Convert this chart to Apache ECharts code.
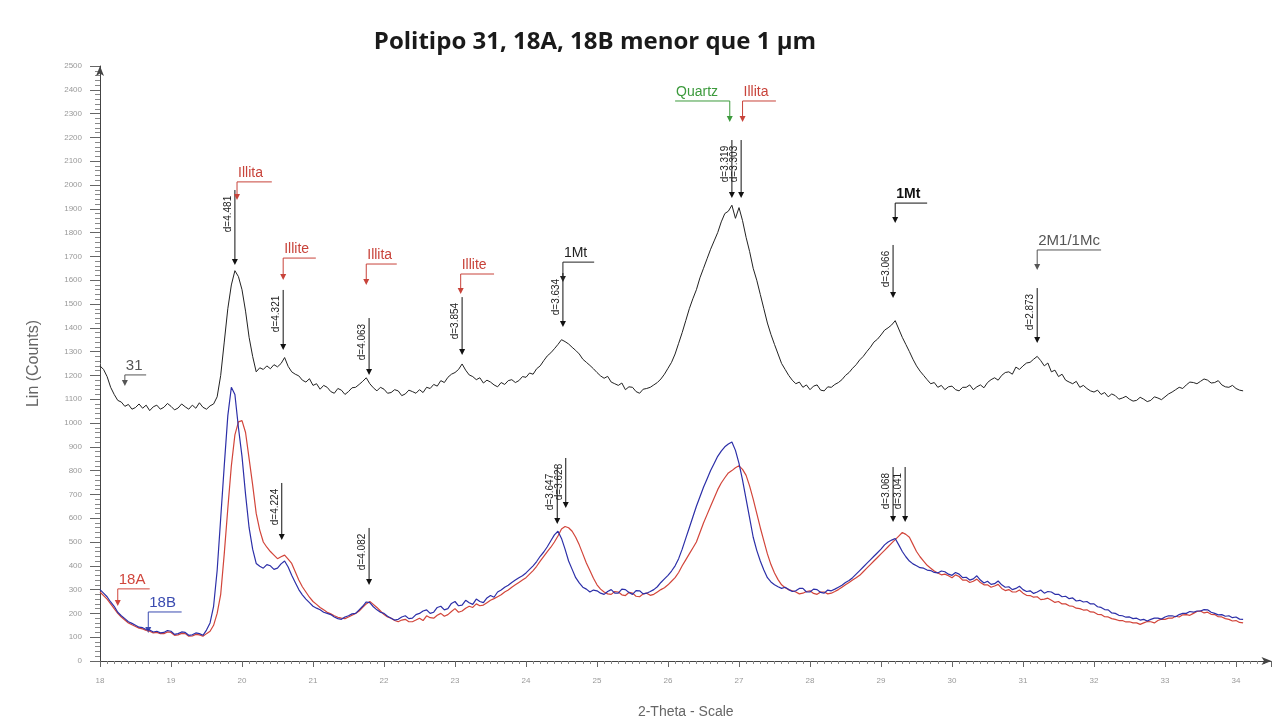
<!DOCTYPE html>
<html><head><meta charset="utf-8">
<script src="https://cdn.jsdelivr.net/npm/echarts@6/dist/echarts.min.js"></script>
<style>html,body{margin:0;padding:0;background:#fff}#c{width:1283px;height:724px}</style>
</head><body><div id="c"></div>
<script>
// ---- data: 2-theta sampled every 0.05 from 18.00 (one row = 0.5 degree) ----
const thetaStart = 18.0;
const thetaStep = 0.05;
const s31 = [
 1240,1225,1195,1150,1120,1095,1088,1070,1078,1058,
 1065,1080,1062,1075,1052,1068,1075,1058,1066,1082,
 1070,1055,1063,1080,1068,1058,1075,1062,1085,1066,
 1058,1072,1080,1110,1200,1340,1480,1580,1640,1615,
 1560,1470,1360,1280,1215,1232,1225,1240,1228,1245,
 1236,1250,1275,1238,1215,1205,1198,1180,1172,1186,
 1158,1165,1142,1158,1150,1132,1125,1145,1138,1120,
 1132,1148,1150,1162,1175,1190,1165,1148,1135,1150,
 1142,1125,1128,1140,1135,1115,1122,1138,1132,1125,
 1140,1128,1150,1145,1162,1155,1178,1170,1192,1205,
 1212,1225,1248,1222,1202,1195,1182,1190,1168,1180,
 1172,1160,1152,1170,1162,1178,1182,1170,1178,1195,
 1192,1210,1205,1228,1240,1262,1282,1295,1312,1330,
 1350,1342,1332,1318,1305,1290,1268,1255,1242,1228,
 1212,1198,1188,1196,1172,1165,1158,1168,1140,1152,
 1150,1132,1125,1142,1145,1150,1160,1170,1185,1205,
 1230,1255,1290,1335,1380,1430,1480,1522,1560,1610,
 1650,1690,1730,1765,1800,1845,1880,1890,1915,1860,
 1905,1850,1780,1720,1650,1600,1540,1480,1420,1372,
 1330,1290,1250,1225,1200,1180,1165,1172,1150,1160,
 1140,1155,1160,1138,1135,1152,1150,1162,1170,1182,
 1200,1212,1230,1245,1265,1280,1300,1318,1340,1352,
 1370,1390,1400,1412,1430,1395,1360,1330,1300,1268,
 1240,1218,1200,1182,1165,1170,1150,1158,1140,1152,
 1155,1140,1135,1150,1150,1160,1140,1152,1160,1148,
 1170,1182,1190,1180,1200,1212,1215,1205,1235,1225,
 1240,1252,1255,1268,1280,1262,1240,1252,1215,1222,
 1195,1205,1180,1172,1165,1175,1150,1158,1145,1135,
 1130,1138,1120,1128,1110,1122,1115,1100,1105,1112,
 1100,1092,1095,1108,1100,1090,1095,1110,1105,1098,
 1110,1122,1130,1140,1150,1145,1160,1172,1170,1165,
 1175,1185,1180,1168,1170,1178,1160,1152,1150,1158,
 1145,1138,1135];
const s18A = [
 290,275,260,240,220,200,185,172,160,152,
 145,138,135,128,125,118,120,115,115,122,
 120,108,110,116,115,104,105,112,110,104,
 115,125,150,200,280,450,640,820,950,1005,
 1010,960,850,740,620,550,500,478,460,445,
 430,438,445,428,410,375,340,312,290,268,
 250,238,225,215,205,198,190,184,180,178,
 185,192,200,210,225,240,250,238,225,210,
 195,185,180,170,165,172,175,165,165,172,
 180,170,190,182,180,192,200,188,195,208,
 220,205,210,222,230,225,240,232,235,245,
 255,262,270,278,290,298,310,320,330,340,
 350,365,380,398,420,440,460,478,500,525,
 555,565,560,545,520,488,450,412,380,348,
 320,302,290,282,280,292,290,278,275,288,
 285,272,270,282,285,276,280,290,300,308,
 320,335,350,372,400,425,450,475,500,540,
 580,615,650,685,720,748,770,790,800,812,
 820,805,780,735,680,620,560,505,450,405,
 370,342,320,308,300,295,290,282,285,292,
 295,284,280,290,290,282,285,292,300,310,
 320,330,340,350,360,375,390,405,420,435,
 450,465,480,495,510,525,540,532,520,490,
 460,438,420,402,390,378,370,362,365,358,
 350,362,355,340,340,330,335,344,330,320,
 320,310,315,322,305,296,300,290,290,298,
 285,276,275,268,270,258,260,264,255,246,
 250,240,240,232,230,222,220,214,215,206,
 205,196,195,186,185,178,175,170,170,164,
 165,160,160,154,160,166,165,160,170,176,
 175,180,180,188,185,194,195,192,200,208,
 210,202,205,196,195,186,185,178,175,168,
 170,162,160];
const s18B = [
 300,285,270,248,230,205,190,178,165,158,
 150,142,140,132,130,122,125,118,120,128,
 125,112,115,122,120,108,110,118,115,108,
 130,160,230,380,600,820,1030,1150,1120,980,
 860,700,560,470,410,398,390,405,400,385,
 390,408,420,395,360,330,300,278,260,245,
 230,222,215,205,200,195,185,178,175,185,
 190,198,200,215,230,248,245,228,215,205,
 200,188,180,172,175,185,190,178,180,195,
 200,210,215,200,205,225,230,215,220,242,
 250,232,235,255,245,238,260,250,245,265,
 275,268,290,298,310,318,330,340,350,358,
 370,385,400,418,440,458,480,505,530,545,
 515,470,420,385,350,328,310,302,290,298,
 295,285,280,292,300,285,285,302,300,288,
 280,296,295,282,285,292,300,312,330,345,
 360,378,400,430,470,515,560,605,650,690,
 730,765,800,830,860,882,900,912,920,885,
 830,760,680,600,520,465,420,382,350,332,
 320,312,305,310,300,292,295,305,305,290,
 290,302,300,288,285,298,295,302,310,318,
 330,338,350,365,380,395,410,425,440,455,
 470,488,500,508,515,488,460,438,420,408,
 400,392,390,382,380,372,370,378,375,365,
 360,372,365,350,352,340,345,358,340,328,
 335,322,325,336,320,310,312,300,305,314,
 300,292,295,284,290,298,285,292,290,280,
 280,270,272,262,265,252,255,248,250,240,
 240,228,225,216,215,202,200,192,190,184,
 185,178,180,172,175,168,175,180,180,176,
 185,190,190,186,195,200,200,208,205,210,
 210,216,215,205,200,194,195,188,190,182,
 185,176,175];

// peak d-spacing tags: [text, 2theta, y top, y tip]
const dTags = [
 ['d=4.481', 19.90, 1979, 1664],
 ['d=4.321', 20.58, 1559, 1307],
 ['d=4.063', 21.79, 1441, 1202],
 ['d=3.854', 23.10, 1529, 1286],
 ['d=3.634', 24.52, 1630, 1403],
 ['d=3.319', 26.90, 2189, 1945],
 ['d=3.303', 27.03, 2189, 1945],
 ['d=3.066', 29.17, 1748, 1525],
 ['d=2.873', 31.20, 1567, 1336],
 ['d=4.224', 20.56, 748, 508],
 ['d=4.082', 21.79, 559, 319],
 ['d=3.647', 24.44, 811, 576],
 ['d=3.628', 24.56, 853, 643],
 ['d=3.068', 29.17, 815, 584],
 ['d=3.041', 29.34, 815, 584]
];
// phase / sample tags: [text, kind, arrow 2theta, line end 2theta, line y, tip y]
const phaseTags = [
 ['Illita', 'illite', 19.93, 20.42, 2013, 1937],
 ['Illite', 'illite', 20.58, 21.04, 1693, 1601],
 ['Illita', 'illite', 21.75, 22.18, 1668, 1580],
 ['Illite', 'illite', 23.08, 23.55, 1626, 1542],
 ['1Mt', 'mica', 24.52, 24.96, 1676, 1592],
 ['Quartz', 'quartz', 26.87, 26.10, 2353, 2265],
 ['Illita', 'illite', 27.05, 27.52, 2353, 2265],
 ['1Mt', 'micaBold', 29.20, 29.65, 1924, 1840],
 ['2M1/1Mc', 'poly', 31.20, 32.10, 1727, 1643],
 ['31', 'sample31', 18.35, 18.65, 1202, 1155],
 ['18A', 'sampleA', 18.25, 18.70, 303, 231],
 ['18B', 'sampleB', 18.68, 19.15, 206, 118]
];

const kindStyle = {
  illite:  {color:'#c8433a', font:'14px "Liberation Sans", Arial, sans-serif'},
  mica:    {color:'#222', font:'14px "Liberation Sans", Arial, sans-serif'},
  micaBold:{color:'#111', font:'bold 14px "Liberation Sans", Arial, sans-serif'},
  quartz:  {color:'#3c9a3c', font:'14px "Liberation Sans", Arial, sans-serif'},
  poly:    {color:'#555', font:'15px "Liberation Sans", Arial, sans-serif'},
  sample31:{color:'#555', font:'15px "Liberation Sans", Arial, sans-serif'},
  sampleA: {color:'#d0463c', font:'15px "Liberation Sans", Arial, sans-serif'},
  sampleB: {color:'#3a4bb0', font:'15px "Liberation Sans", Arial, sans-serif'}
};

function pairs(arr){ return arr.map((v,i)=>[+(thetaStart + i*thetaStep).toFixed(2), v]); }

const chart = echarts.init(document.getElementById('c'));
chart.setOption({
  animation:false,
  backgroundColor:'#fff',
  title:{text:'Politipo 31, 18A, 18B menor que 1 µm', left:590, top:25, textAlign:'center',
    textStyle:{fontFamily:'"Open Sans", sans-serif', fontWeight:'bold', fontSize:24, color:'#1a1a1a'}},
  grid:{left:100, right:11.5, top:66, bottom:63},
  xAxis:{type:'value', min:18, max:34.5, interval:1,
    name:'2-Theta - Scale', nameLocation:'middle', nameGap:44,
    nameTextStyle:{fontFamily:'"Liberation Sans", Arial', fontSize:14, color:'#666'},
    axisLine:{show:true, symbol:['none','arrow'], symbolSize:[6,10], lineStyle:{color:'#444', width:1}},
    axisTick:{show:true, length:6, lineStyle:{color:'#666'}},
    minorTick:{show:true, splitNumber:10, length:3, lineStyle:{color:'#888'}},
    axisLabel:{fontSize:8, color:'#999', margin:16, showMaxLabel:false, fontFamily:'"Liberation Sans", Arial'},
    splitLine:{show:false}},
  yAxis:{type:'value', min:0, max:2500, interval:100,
    name:'Lin (Counts)', nameLocation:'middle', nameGap:58, nameRotate:90,
    nameTextStyle:{fontFamily:'"Liberation Sans", Arial', fontSize:16, color:'#666'},
    axisLine:{show:true, symbol:['none','arrow'], symbolSize:[6,10], lineStyle:{color:'#444', width:1}},
    axisTick:{show:true, length:10, lineStyle:{color:'#666'}},
    minorTick:{show:true, splitNumber:5, length:5, lineStyle:{color:'#888'}},
    axisLabel:{fontSize:8, color:'#999', margin:18, fontFamily:'"Liberation Sans", Arial', formatter:v=>String(v)},
    splitLine:{show:false}},
  series:[
    {name:'31', type:'line', data:pairs(s31), showSymbol:false, lineStyle:{color:'#222', width:1}, itemStyle:{color:'#222'}},
    {name:'18A', type:'line', data:pairs(s18A), showSymbol:false, lineStyle:{color:'#d2453a', width:1.2}, itemStyle:{color:'#d2453a'}},
    {name:'18B', type:'line', data:pairs(s18B), showSymbol:false, lineStyle:{color:'#2c2fa8', width:1.2}, itemStyle:{color:'#2c2fa8'}}
  ]
});

function px(x,y){ return chart.convertToPixel({xAxisIndex:0, yAxisIndex:0},[x,y]); }
const g = [];
function arrow(x, yTop, yTip, color){
  g.push({type:'line', shape:{x1:x, y1:yTop, x2:x, y2:yTip-5}, style:{stroke:color, lineWidth:1}, silent:true});
  g.push({type:'polygon', shape:{points:[[x-3,yTip-6],[x+3,yTip-6],[x,yTip]]}, style:{fill:color}, silent:true});
}
dTags.forEach(t=>{
  const a = px(t[1], t[2]), b = px(t[1], t[3]);
  arrow(a[0], a[1], b[1], '#111');
  g.push({type:'text', x:a[0]-7, y:a[1]+24, rotation:Math.PI/2,
    style:{text:t[0], align:'center', verticalAlign:'middle', font:'10px "Liberation Sans", Arial, sans-serif', fill:'#222'}, silent:true});
});
phaseTags.forEach(t=>{
  const st = kindStyle[t[1]];
  const a = px(t[2], t[4]), e = px(t[3], t[4]), tip = px(t[2], t[5]);
  g.push({type:'line', shape:{x1:a[0], y1:a[1], x2:e[0], y2:e[1]}, style:{stroke:st.color, lineWidth:1}, silent:true});
  arrow(a[0], a[1], tip[1], st.color);
  g.push({type:'text', x:Math.min(a[0], e[0]) + 1, y:a[1]-2,
    style:{text:t[0], align:'left', verticalAlign:'bottom', font:st.font, fill:st.color}, silent:true});
});
chart.setOption({graphic:g});
</script>
</body></html>
